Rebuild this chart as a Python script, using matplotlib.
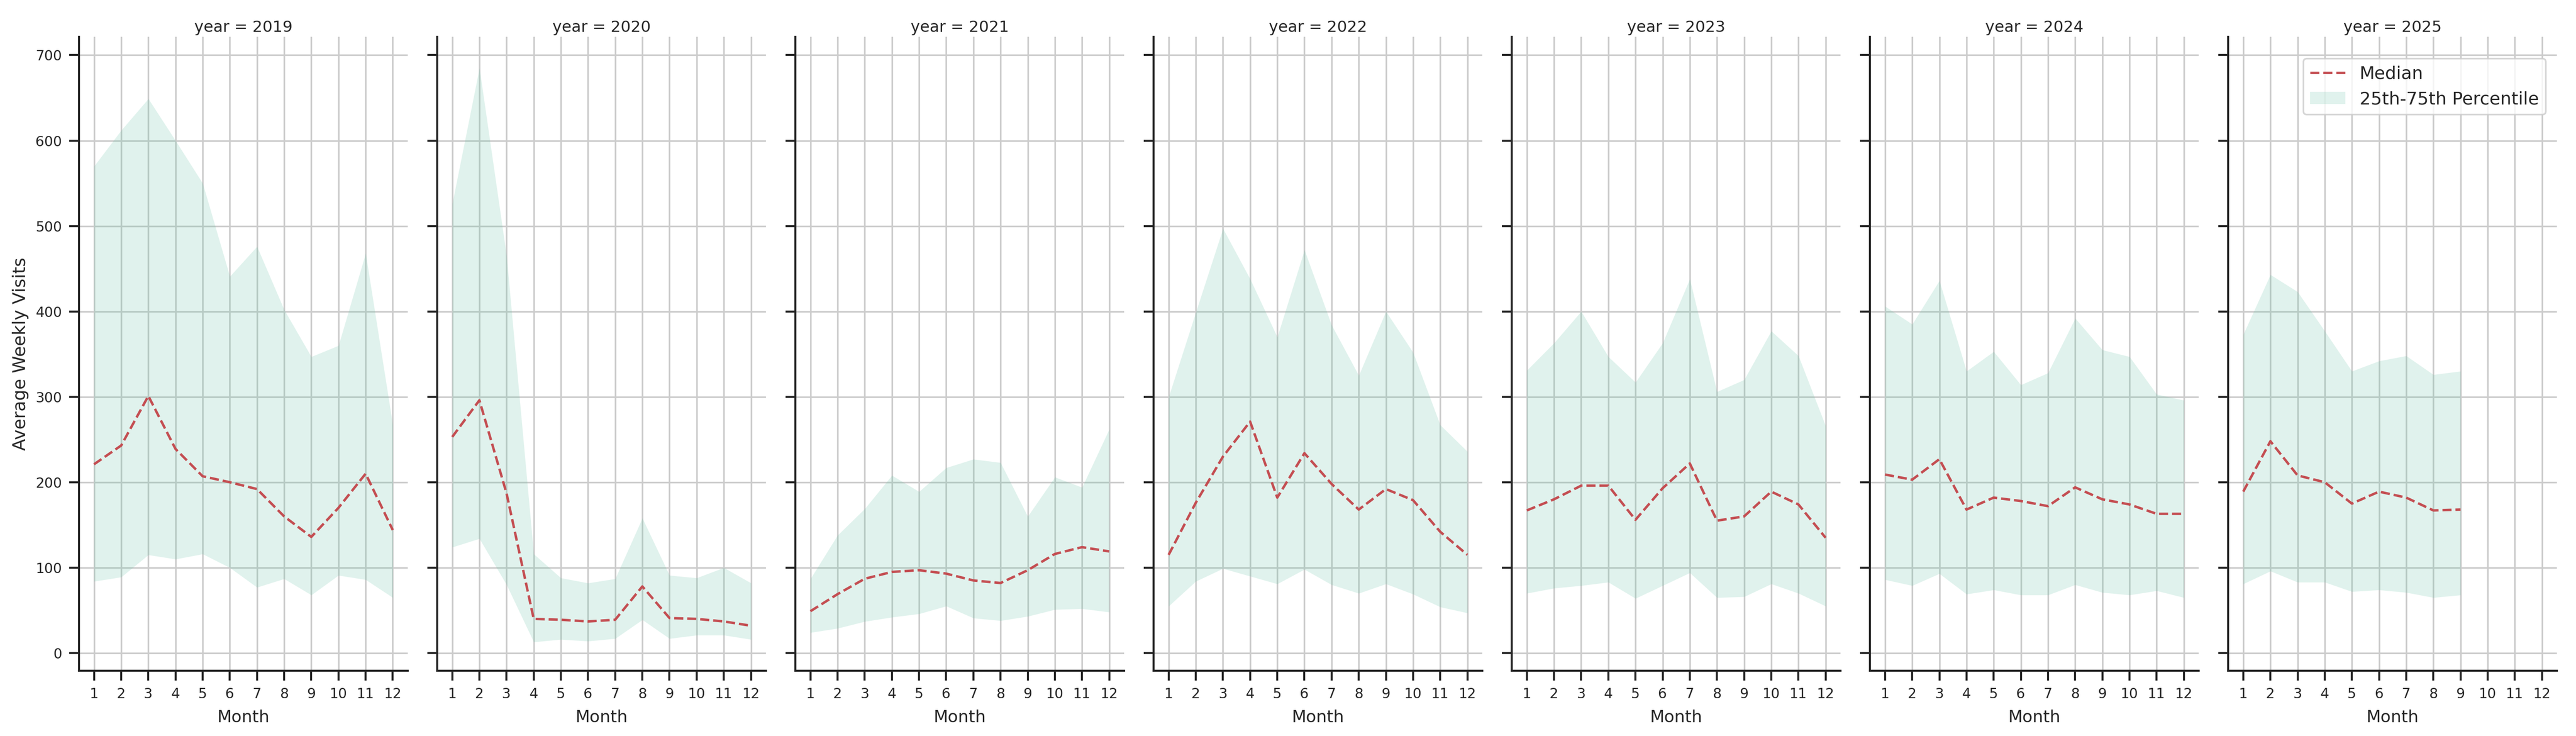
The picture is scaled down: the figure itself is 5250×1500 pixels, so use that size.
import matplotlib
matplotlib.use("Agg")
import matplotlib.pyplot as plt
import seaborn as sns
import numpy as np

years = [2019, 2020, 2021, 2022, 2023, 2024, 2025]
months = list(range(1, 13))

median_2019 = [221, 243, 301, 239, 207, 200, 192, 160, 136, 170, 210, 144]
p25_2019 = [84, 89, 115, 110, 116, 100, 77, 87, 68, 91, 86, 65]
p75_2019 = [570, 612, 649, 600, 550, 441, 476, 402, 347, 360, 468, 267]

median_2020 = [253, 296, 187, 40, 39, 37, 39, 78, 41, 40, 37, 32]
p25_2020 = [124, 134, 80, 13, 16, 14, 17, 39, 17, 21, 21, 16]
p75_2020 = [526, 685, 465, 116, 88, 82, 87, 158, 91, 88, 100, 82]

median_2021 = [49, 69, 87, 95, 97, 93, 85, 82, 97, 116, 124, 119]
p25_2021 = [24, 29, 37, 42, 46, 55, 41, 38, 43, 51, 52, 48]
p75_2021 = [87, 138, 169, 208, 189, 217, 227, 223, 160, 206, 194, 262]

median_2022 = [115, 176, 230, 271, 182, 234, 198, 168, 192, 179, 142, 115]
p25_2022 = [55, 84, 99, 90, 81, 98, 80, 70, 81, 69, 54, 47]
p75_2022 = [300, 399, 497, 438, 370, 472, 384, 325, 400, 352, 267, 236]

median_2023 = [167, 180, 196, 196, 156, 193, 222, 155, 160, 189, 174, 135]
p25_2023 = [70, 76, 79, 83, 64, 79, 94, 65, 66, 81, 70, 55]
p75_2023 = [331, 363, 400, 347, 317, 363, 438, 306, 320, 377, 348, 266]

median_2024 = [209, 203, 227, 168, 182, 178, 172, 194, 180, 174, 163, 163]
p25_2024 = [86, 79, 93, 69, 74, 68, 68, 80, 71, 68, 73, 65]
p75_2024 = [406, 385, 436, 330, 353, 314, 328, 392, 355, 347, 303, 296]

median_2025 = [189, 248, 208, 200, 175, 189, 182, 167, 168]
p25_2025 = [81, 96, 83, 83, 72, 74, 71, 65, 68]
p75_2025 = [373, 443, 423, 377, 330, 342, 348, 326, 330]

medians = [median_2019, median_2020, median_2021, median_2022, median_2023, median_2024, median_2025]
p25s = [p25_2019, p25_2020, p25_2021, p25_2022, p25_2023, p25_2024, p25_2025]
p75s = [p75_2019, p75_2020, p75_2021, p75_2022, p75_2023, p75_2024, p75_2025]

sns.set_theme(style="ticks", context="paper")
plt.rcParams['font.family'] = ['DejaVu Sans']

fig, axes = plt.subplots(1, 7, figsize=(17.5, 5), dpi=300, sharex=True, sharey=True)
fig.subplots_adjust(left=0.0307, right=0.9926, top=0.95, bottom=0.0889, wspace=0.09)

line_color = "#c44e52"
fill_color = (102/255, 194/255, 165/255)

handles = None
for ax, yr, med, lo, hi in zip(axes, years, medians, p25s, p75s):
    x = months[:len(med)]
    ax.grid(True, color="#cccccc", linewidth=0.8, zorder=0)
    ax.set_axisbelow(True)
    h_fill = ax.fill_between(x, lo, hi, color=fill_color, alpha=0.2, linewidth=0,
                             label="25th-75th Percentile", zorder=2)
    h_line, = ax.plot(x, med, linestyle="--", color=line_color, linewidth=1.2,
                      label="Median", zorder=3)
    handles = [h_line, h_fill]
    ax.set_title(f"year = {yr}", fontsize=7.7, pad=2.5)
    ax.set_xlabel("Month", fontsize=8.2)
    ax.tick_params(axis="both", labelsize=6.8)
    sns.despine(ax=ax)

axes[0].set_xticks(months)
axes[0].set_xlim(0.45, 12.55)
axes[0].set_yticks(np.arange(0, 701, 100))
axes[0].set_ylim(-20.5, 721.5)
axes[0].set_ylabel("Average Weekly Visits", fontsize=8.6, labelpad=3.2)

axes[-1].legend(handles=handles, labels=["Median", "25th-75th Percentile"],
                loc="upper right", bbox_to_anchor=(0.966, 0.966), borderaxespad=0,
                fontsize=8.6, frameon=True)

fig.savefig("out.png", dpi=300)
